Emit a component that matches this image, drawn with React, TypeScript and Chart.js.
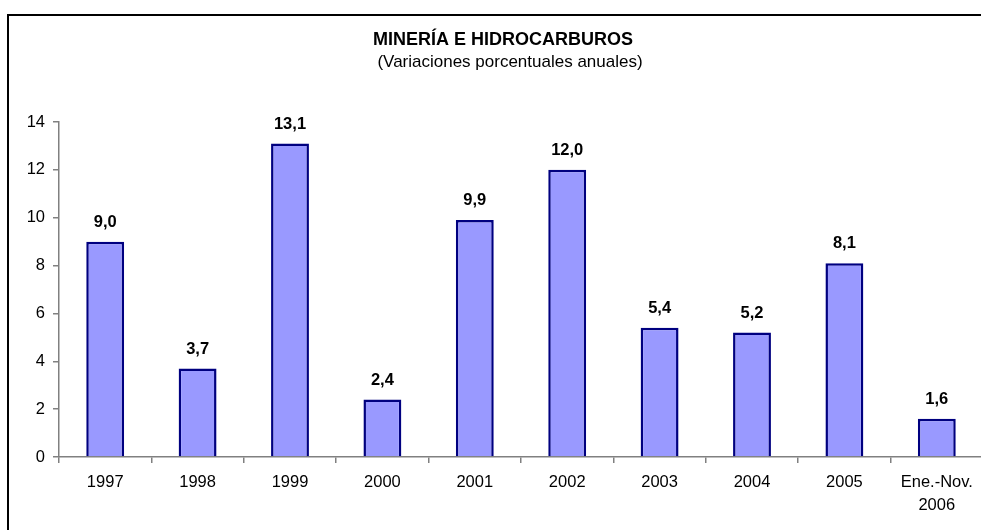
import React, { useEffect, useRef } from "react";
import { Chart, registerables } from "chart.js";

Chart.register(...registerables);

const categories: (string | string[])[] = ["1997", "1998", "1999", "2000", "2001", "2002", "2003", "2004", "2005", ["Ene.-Nov.", "2006"]];
const values: number[] = [9.0, 3.7, 13.1, 2.4, 9.9, 12.0, 5.4, 5.2, 8.1, 1.6];
const yTicks: number[] = [0, 2, 4, 6, 8, 10, 12, 14];
const titleText = "MINERÍA E HIDROCARBUROS";
const subtitleText = "(Variaciones porcentuales anuales)";

const FONT = "'Liberation Sans', Arial, sans-serif";

export default function App() {
  const ref = useRef<HTMLCanvasElement | null>(null);

  useEffect(() => {
    if (!ref.current) return;
    const decor = {
      id: "decor",
      afterDraw(chart: any) {
        const ctx = chart.ctx;
        ctx.save();
        ctx.fillStyle = "#000";
        ctx.fillRect(7, 14, 2, 600);
        ctx.fillRect(7, 14, 1100, 2);
        ctx.textAlign = "center";
        ctx.textBaseline = "middle";
        ctx.font = `bold 18px ${FONT}`;
        ctx.fillText(titleText, 503, 40);
        ctx.font = `17px ${FONT}`;
        ctx.fillText(subtitleText, 510, 62);
        const meta = chart.getDatasetMeta(0);
        ctx.font = `bold 16.5px ${FONT}`;
        ctx.textBaseline = "bottom";
        meta.data.forEach((bar: any, i: number) => {
          const v = values[i];
          ctx.fillText(v.toFixed(1).replace(".", ","), bar.x, bar.y - 11);
        });
        ctx.restore();
      },
    };

    const chart = new Chart(ref.current, {
      type: "bar",
      data: {
        labels: categories,
        datasets: [
          {
            data: values,
            backgroundColor: "#9999FF",
            borderColor: "#000080",
            borderWidth: 2.5,
            categoryPercentage: 1,
            barPercentage: 0.41,
          },
        ],
      },
      options: {
        animation: false,
        responsive: false,
        maintainAspectRatio: false,
        layout: { padding: { top: 122, right: 17, bottom: 0, left: 0 } },
        plugins: {
          legend: { display: false },
          title: { display: false },
          tooltip: { enabled: false },
        },
        scales: {
          x: {
            grid: {
              offset: true,
              drawOnChartArea: false,
              drawTicks: true,
              tickLength: 6,
              color: "#808080",
              lineWidth: 1.5,
            },
            border: { display: true, color: "#808080", width: 1.5 },
            ticks: {
              color: "#000",
              font: { family: FONT, size: 16.5, lineHeight: 1.45 },
              padding: 7,
              maxRotation: 0,
              autoSkip: false,
            },
            afterFit(scale: any) {
              scale.height = 73;
            },
          },
          y: {
            min: 0,
            max: 14,
            afterBuildTicks(scale: any) {
              scale.ticks = yTicks.map((v) => ({ value: v }));
            },
            grid: {
              drawOnChartArea: false,
              drawTicks: true,
              tickLength: 6,
              color: "#808080",
              lineWidth: 1.5,
            },
            border: { display: true, color: "#808080", width: 1.5 },
            ticks: {
              color: "#000",
              font: { family: FONT, size: 16.5 },
              padding: 8,
            },
            afterFit(scale: any) {
              scale.width = 59;
            },
          },
        },
      },
      plugins: [decor],
    });
    return () => chart.destroy();
  }, []);

  return (
    <div style={{ position: "fixed", left: 0, top: 0, width: 1000, height: 530, background: "#fff" }}>
      <canvas ref={ref} width={1000} height={530} style={{ display: "block", width: 1000, height: 530 }} />
    </div>
  );
}
